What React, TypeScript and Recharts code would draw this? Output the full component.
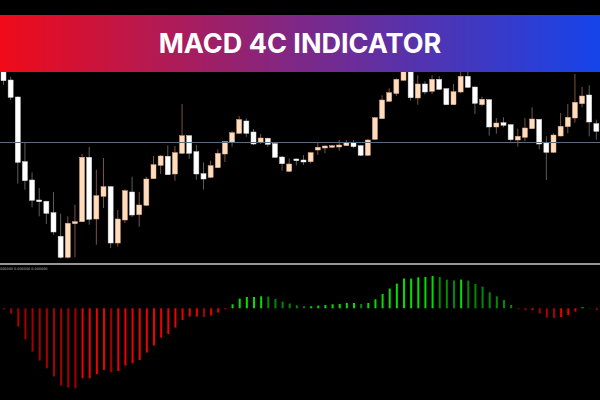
import React from 'react';
import { ComposedChart, BarChart, Bar, XAxis, YAxis, ReferenceLine, Cell } from 'recharts';

const opens = [203, 183, 166, 101.3, 83, 63, 61.7, 50.3, 26.7, 5.7, 39.3, 41.3, 105.7, 44, 66.7, 76.3, 20, 43, 71, 48.3, 57.7, 84.3, 97.7, 106.7, 89, 109.7, 127.3, 111.3, 89.3, 85.7, 95.3, 109, 121, 129.7, 142, 131, 120.3, 124.7, 119.3, 106, 91.7, 104, 103, 101.3, 113, 115, 115.7, 116, 117.3, 120.7, 117.3, 107.7, 123.7, 144.3, 161.7, 169.5, 182.7, 197, 165, 179, 171.7, 183.7, 174.3, 158.3, 171, 186.7, 176, 158.3, 163.3, 136, 140.3, 138.3, 123, 125.7, 134.3, 143.7, 120, 110.7, 127, 136.3, 145, 159.3, 168, 139.3];
const closes = [182.3, 165.7, 100.7, 82.3, 62.7, 61.3, 49.7, 31, 5.7, 39.7, 41.3, 105.7, 43.7, 67.3, 76.3, 20, 44, 72.3, 48, 58, 84, 98.3, 107, 88.3, 110.3, 127.3, 109.7, 89, 84, 97.3, 109.7, 121.3, 130.3, 143.5, 129.7, 119, 125, 118.7, 105.7, 99.3, 99, 102.3, 101, 110.3, 115.7, 117, 117.3, 118, 120.7, 116.3, 107.7, 123, 145.3, 163, 170.3, 183.7, 195, 165.3, 179, 171, 183.7, 173.7, 158.3, 171.3, 186.7, 175.7, 159.7, 163.7, 136, 140, 137.7, 123.3, 126.7, 135, 144, 119, 110.7, 128, 136.7, 145.7, 160.7, 167, 141, 131.7];
const highs = [208, 186.3, 166.7, 120, 90.7, 75, 62.3, 71, 49.3, 46.7, 58.3, 109, 116, 93.3, 105, 77, 53, 73.5, 86.3, 71, 86.3, 107, 108, 117.7, 117, 159, 128, 118.3, 100.7, 102.3, 113.7, 122, 131.7, 147, 144.7, 134, 129, 125.5, 120, 107, 104.7, 104.5, 108, 111.3, 120.3, 117.5, 118, 123, 123, 123, 118, 123.7, 146, 167.7, 174.7, 184.7, 201, 201, 187.7, 181.7, 187.7, 187, 175, 179, 193, 193, 176.5, 166.3, 164, 145, 145.7, 139, 134.3, 145, 155.7, 144, 126.7, 129.7, 150, 159, 189, 176, 177.7, 143.3];
const lows = [178.3, 163, 79.3, 73.3, 55.7, 46.7, 39, 28.3, 4.3, 4.5, 5.7, 41, 38.3, 18.3, 55, 15, 16.3, 40, 46, 36.3, 57, 84, 89, 88, 82.3, 109, 104.3, 83.3, 73.3, 85, 95, 101, 116.3, 129, 126.3, 118, 119, 116.3, 105, 92.3, 91, 97.7, 98, 99.7, 108, 109.7, 115, 112.3, 117, 114.7, 107, 107, 123, 144, 161, 167, 182, 162.3, 158.3, 168.3, 169, 173, 158, 158, 169.7, 175, 149, 156.7, 127.3, 129.3, 135.7, 121.7, 116.3, 121.7, 134, 113.7, 83, 110, 126.5, 130, 140.3, 155.7, 126.7, 123.3];
const macd = [
  -1, -5.3, -18.3, -31, -43.3, -52.3, -60, -68.3, -77.3, -79.3, -80, -70, -70, -66, -61.7, -64, -62.7, -57.3, -55, -51.7, -44.3, -37.3, -29.3, -25.7, -19.3, -11.7, -8.3, -8.3,
  -8.7, -7.3, -4.3, -1, 4, 9.7, 11.3, 11.3, 12, 11.7, 9.3, 6.7, 4.7, 3, 2, 2, 2.7, 3.3, 4, 4.3, 5.3, 5.3, 4.3, 5.3, 9, 14.3, 19.7, 24.7,
  29.7, 29.7, 31, 31.3, 32.3, 31.3, 28.7, 27.7, 28.7, 27.7, 24.3, 21.7, 16, 12, 8.3, 3.3, -0.7, -2, -2, -5.3, -9.3, -9.7, -8.7, -6.7, -3.3, 1, 0.3, -1.7,
];
const levelLine = 120.5;
const title = 'MACD 4C INDICATOR';
const macdLabel = '000000 0.000000 0.000000';

const bars = opens.map((o, i) => ({
  cat: String(i + 1),
  open: o,
  close: closes[i],
  high: highs[i],
  low: lows[i],
  macd: macd[i],
}));

const macdColor = (i: number) => {
  const v = macd[i];
  const prev = i > 0 ? macd[i - 1] : v;
  if (v >= 0) return v >= prev && i > 0 ? '#00e000' : '#008a00';
  return v >= prev && i > 0 ? '#f00000' : '#a80000';
};

const Candle = (props: any) => {
  const { x, y, width, height, payload } = props;
  if (x == null || y == null || !payload) return null;
  const { open, close, high, low } = payload;
  const h = Math.abs(height);
  const top = height >= 0 ? y : y + height;
  const span = high - low;
  const k = span > 0 ? h / span : 0;
  const cx = x + width / 2;
  const yO = top + (high - open) * k;
  const yC = top + (high - close) * k;
  const bull = close >= open;
  const bTop = Math.min(yO, yC);
  const bH = Math.max(Math.abs(yC - yO), 1.2);
  return (
    <g>
      <line x1={cx} x2={cx} y1={top} y2={top + h} stroke={bull ? '#7a5248' : '#5c5c5c'} strokeWidth={1} />
      <rect x={cx - 2.5} y={bTop} width={5} height={bH} fill={bull ? '#ffdcbc' : '#ffffff'} stroke={bull ? '#e0a888' : '#d8d8d8'} strokeWidth={0.5} />
    </g>
  );
};

export default function App() {
  return (
    <div style={{ position: 'absolute', left: 0, top: 0, width: 600, height: 400, background: '#000', overflow: 'hidden' }}>
      <div style={{ position: 'absolute', left: 0, top: 0 }}>
        <ComposedChart width={600} height={263} data={bars} margin={{ top: 0, right: 0, bottom: 0, left: 0 }}>
          <XAxis dataKey="cat" hide />
          <YAxis hide type="number" domain={[0, 263]} allowDataOverflow />
          <ReferenceLine y={levelLine} stroke="#5c6c7c" strokeWidth={1} />
          <Bar dataKey={(d: any) => [d.low, d.high]} barSize={5} shape={<Candle />} isAnimationActive={false} />
        </ComposedChart>
      </div>
      <div style={{ position: 'absolute', left: 0, top: 263, width: 600, height: 2, background: '#969696' }} />
      <div style={{ position: 'absolute', left: 0, top: 265 }}>
        <BarChart width={600} height={135} data={bars} margin={{ top: 0, right: 0, bottom: 0, left: 0 }}>
          <XAxis dataKey="cat" hide />
          <YAxis hide type="number" domain={[-91.7, 43.3]} allowDataOverflow />
          <Bar dataKey="macd" barSize={2} isAnimationActive={false}>
            {bars.map((_, i) => (
              <Cell key={i} fill={macdColor(i)} />
            ))}
          </Bar>
        </BarChart>
      </div>
      <div style={{ position: 'absolute', left: 0, top: 267, fontFamily: 'DejaVu Sans', fontSize: 3.4, lineHeight: '4px', color: '#b8b8b8', whiteSpace: 'nowrap' }}>
        {macdLabel}
      </div>
      <div
        style={{
          position: 'absolute',
          left: 0,
          top: 15,
          width: 600,
          height: 57,
          background: 'linear-gradient(90deg, #f00a18 0%, #7d2888 50%, #1544ea 100%)',
          display: 'flex',
          alignItems: 'center',
          justifyContent: 'center',
          color: '#fff',
          fontFamily: 'Inter',
          fontWeight: 700,
          fontSize: 27,
          zIndex: 2,
        }}
      >
        {title}
      </div>
    </div>
  );
}
